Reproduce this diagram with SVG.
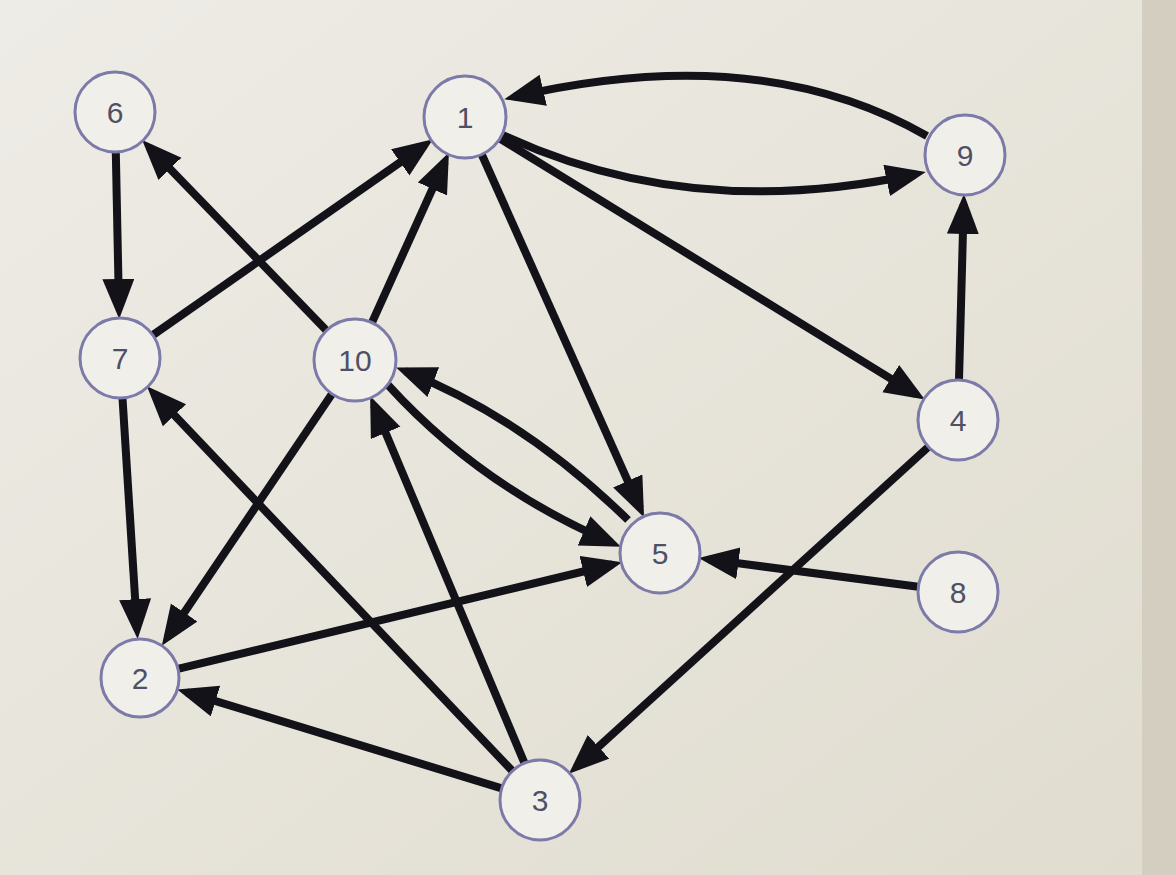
<svg xmlns="http://www.w3.org/2000/svg" width="1176" height="875" viewBox="0 0 1176 875">
  <defs>
    <linearGradient id="bg" x1="0" y1="0" x2="1" y2="1">
      <stop offset="0" stop-color="#eeece6"/>
      <stop offset="1" stop-color="#e0dccf"/>
    </linearGradient>
    <marker id="arr" markerUnits="userSpaceOnUse" markerWidth="42" markerHeight="34" refX="30" refY="16" orient="auto">
      <path d="M0,0 L40,16 L0,32 z" fill="#121218"/>
    </marker>
    <style>
      .edge { fill: none; stroke: #121218; stroke-width: 8; marker-end: url(#arr); }
      .node circle { fill: #f1efe9; stroke: #7c7aa8; stroke-width: 3; }
      .node text { font-family: "Liberation Sans", Arial, sans-serif; font-size: 30px; fill: #4f4f66; text-anchor: middle; dominant-baseline: central; }
    </style>
  </defs>
  <rect x="0" y="0" width="1176" height="875" fill="url(#bg)"/>
  <rect x="1142" y="0" width="34" height="875" fill="#d3cebf"/>

  <g id="connectors">
    <path class="edge" d="M115.8,152 L119,309"/>
    <path class="edge" d="M152.8,335.1 L424.8,145.1"/>
    <path class="edge" d="M371.5,323.6 L444.8,161.6"/>
    <path class="edge" d="M327.2,331.2 L149.1,147.2"/>
    <path class="edge" d="M503,135 Q690.5,222.5 916,174"/>
    <path class="edge" d="M927,136 Q760,40 514,97"/>
    <path class="edge" d="M499.1,138 L916.3,394.3"/>
    <path class="edge" d="M481.3,153.5 L640,508.3"/>
    <path class="edge" d="M959,380 L963.7,204"/>
    <path class="edge" d="M928.4,446.9 L576.3,767"/>
    <path class="edge" d="M918.3,586.8 L708.6,559.4"/>
    <path class="edge" d="M628,520 Q523.6,417.6 405.4,371.2"/>
    <path class="edge" d="M388,385 Q480.2,486.2 611.6,542.7"/>
    <path class="edge" d="M122.5,398 L137,629.1"/>
    <path class="edge" d="M332.6,393.1 L167.4,637.4"/>
    <path class="edge" d="M512.4,771 L153.8,393.5"/>
    <path class="edge" d="M524.5,763.1 L374,405.2"/>
    <path class="edge" d="M501.7,788.3 L186.8,692.3"/>
    <path class="edge" d="M178.9,668.6 L612.4,564.5"/>
  </g>

  <g id="node-1" class="node"><circle cx="465" cy="117" r="41"/><text x="465" y="117">1</text></g>
  <g id="node-2" class="node"><circle cx="140" cy="678" r="39"/><text x="140" y="678">2</text></g>
  <g id="node-3" class="node"><circle cx="540" cy="800" r="40"/><text x="540" y="800">3</text></g>
  <g id="node-4" class="node"><circle cx="958" cy="420" r="40"/><text x="958" y="420">4</text></g>
  <g id="node-5" class="node"><circle cx="660" cy="553" r="40"/><text x="660" y="553">5</text></g>
  <g id="node-6" class="node"><circle cx="115" cy="112" r="40"/><text x="115" y="112">6</text></g>
  <g id="node-7" class="node"><circle cx="120" cy="358" r="40"/><text x="120" y="358">7</text></g>
  <g id="node-8" class="node"><circle cx="958" cy="592" r="40"/><text x="958" y="592">8</text></g>
  <g id="node-9" class="node"><circle cx="965" cy="155" r="40"/><text x="965" y="155">9</text></g>
  <g id="node-10" class="node"><circle cx="355" cy="360" r="41"/><text x="355" y="360">10</text></g>
</svg>
